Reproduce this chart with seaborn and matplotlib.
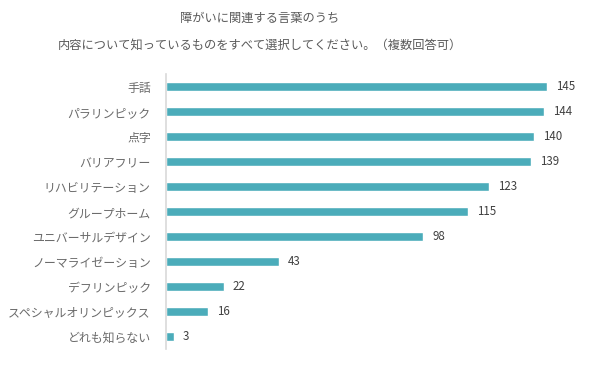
import matplotlib
matplotlib.use("Agg")
import matplotlib.pyplot as plt
import seaborn as sns
import pandas as pd

# data
words = ["手話", "パラリンピック", "点字", "バリアフリー", "リハビリテーション",
         "グループホーム", "ユニバーサルデザイン", "ノーマライゼーション",
         "デフリンピック", "スペシャルオリンピックス", "どれも知らない"]
counts = [145, 144, 140, 139, 123, 115, 98, 43, 22, 16, 3]
title_lines = ["障がいに関連する言葉のうち",
               "内容について知っているものをすべて選択してください。（複数回答可）"]

df = pd.DataFrame({"word": words, "count": counts})

sns.set_theme(style="white")
plt.rcParams['font.family'] = ['Noto Sans CJK JP', 'DejaVu Sans']

fig = plt.figure(figsize=(6, 3.65), dpi=100)
ax = fig.add_axes([0.2767, 0.0425, 0.70, 0.7535])

sns.barplot(data=df, x="count", y="word", color="#4BACBA", saturation=1,
            width=0.36, ax=ax, orient="h")

ax.set_xlim(0, 160)
ax.set_xlabel("")
ax.set_ylabel("")
ax.set_xticks([])
for s in ["top", "right", "bottom"]:
    ax.spines[s].set_visible(False)
ax.spines["left"].set_color("#D9D9D9")
ax.spines["left"].set_linewidth(1.2)
ax.tick_params(axis="y", length=0, pad=11, labelsize=8.6, labelcolor="#6A6A6A")

for i, v in enumerate(counts):
    ax.text(v + 3.5, i, str(v), va="center", ha="left", fontsize=8.3,
            color="#404040")

fig.text(0.433, 0.95, title_lines[0], ha="center", va="center",
         fontsize=8.8, color="#595959")
fig.text(0.433, 0.877, title_lines[1], ha="center", va="center",
         fontsize=8.8, color="#595959")

fig.savefig("out.png", dpi=100, facecolor="white")
